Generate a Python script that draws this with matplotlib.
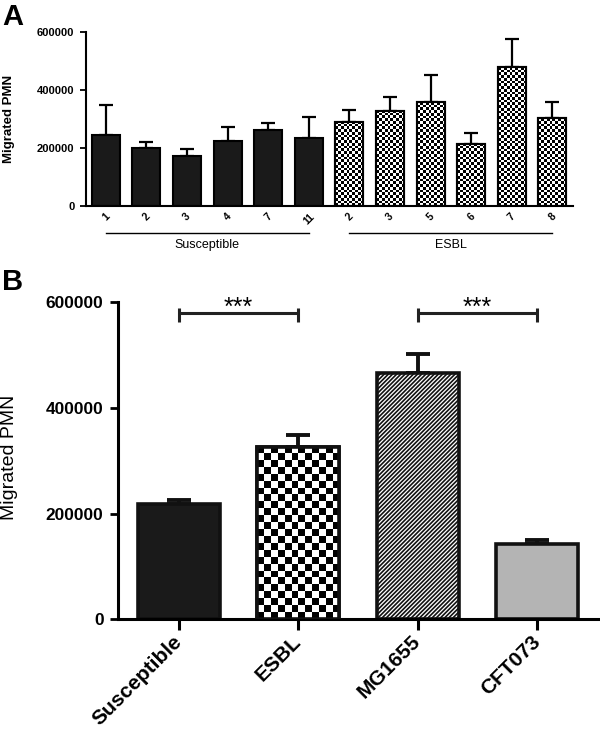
import numpy as np
import matplotlib
matplotlib.use("Agg")
import matplotlib.pyplot as plt
from matplotlib.transforms import blended_transform_factory

plt.rcParams['font.family'] = ['Liberation Sans', 'DejaVu Sans']
plt.rcParams['hatch.linewidth'] = 1.2

# ---------------- data ----------------
a_labels = ['1', '2', '3', '4', '7', '11', '2', '3', '5', '6', '7', '8']
a_groups = ['Susceptible'] * 6 + ['ESBL'] * 6
a_means = [246000, 200000, 171000, 224000, 262000, 236000,
           291000, 329000, 357000, 215000, 478000, 302000]
a_err = [103000, 20000, 24000, 47000, 24000, 70000,
         39000, 47000, 96000, 37000, 98000, 55000]

b_labels = ['Susceptible', 'ESBL', 'MG1655', 'CFT073']
b_means = [219000, 327000, 467000, 142000]
b_err = [7000, 21000, 35000, 8500]
b_sig_pairs = [(0, 1), (2, 3)]
b_sig_text = ['***', '***']
yticks = [0, 200000, 400000, 600000]

fig = plt.figure(figsize=(6, 7.3), dpi=100)


def checker_fill(ax, bars, cell_h, ncols, z=2.5):
    for bar in bars:
        x0, w, h = bar.get_x(), bar.get_width(), bar.get_height()
        nrows = max(1, int(round(h / cell_h)))
        ii, jj = np.indices((nrows, ncols))
        img = ((ii + jj) % 2).astype(float)
        im = ax.imshow(img, cmap='gray', vmin=0, vmax=1, extent=[x0, x0 + w, 0, h],
                       origin='lower', interpolation='nearest', aspect='auto', zorder=z)
        im.set_clip_path(bar)


# ---------------- Panel A ----------------
axA = fig.add_axes([86 / 600, 1 - 206 / 730, 487 / 600, 174 / 730])
xa = np.arange(len(a_means))
fills = ['#1a1a1a' if g == 'Susceptible' else 'white' for g in a_groups]
axA.errorbar(xa, a_means, yerr=[np.zeros(len(a_err)), a_err], fmt='none',
             ecolor='black', elinewidth=1.6, capsize=5, capthick=1.6, zorder=1)
barsA = axA.bar(xa, a_means, width=0.69, color=fills, edgecolor='black',
                linewidth=1.5, zorder=2)
esbl_idx = [i for i, g in enumerate(a_groups) if g == 'ESBL']
checker_fill(axA, [barsA[i] for i in esbl_idx], cell_h=9300, ncols=10)
axA.bar(xa[esbl_idx], np.array(a_means)[esbl_idx], width=0.69, fill=False,
        edgecolor='black', linewidth=1.5, zorder=3)
axA.set_xlim(-0.49, 11.51)
axA.set_ylim(0, 600000)
axA.set_yticks(yticks)
axA.set_yticklabels([str(v) for v in yticks], fontsize=8, fontweight='bold')
axA.set_xticks(xa)
axA.set_xticklabels(a_labels, rotation=45, fontsize=7.5, fontweight='bold',
                    ha='center')
axA.tick_params(axis='x', length=0, pad=4)
axA.tick_params(axis='y', length=4.3, width=1.3, pad=4)
for s in ['top', 'right']:
    axA.spines[s].set_visible(False)
for s in ['left', 'bottom']:
    axA.spines[s].set_linewidth(1.5)
axA.set_ylabel('Migrated PMN', fontsize=9.5, fontweight='bold')
axA.yaxis.label.set_va('center')
axA.yaxis.set_label_coords(-0.159, 0.5)

trA = blended_transform_factory(axA.transData, axA.transAxes)
for g in ['Susceptible', 'ESBL']:
    idx = [i for i, gg in enumerate(a_groups) if gg == g]
    axA.plot([xa[idx[0]], xa[idx[-1]]], [-0.155, -0.155], color='black', lw=1.0,
             transform=trA, clip_on=False)
    axA.text((xa[idx[0]] + xa[idx[-1]]) / 2, -0.224, g, transform=trA,
             ha='center', va='center', fontsize=9)

fig.text(0.004, 1 - 3 / 730, 'A', fontsize=21, fontweight='bold', va='top', ha='left')

# ---------------- Panel B ----------------
axB = fig.add_axes([118.3 / 600, 1 - 619.3 / 730, 479.4 / 600, 317 / 730])
xb = np.arange(len(b_means))
b_fill = ['#1a1a1a', 'white', 'white', '#b4b4b4']
b_hatch = ['', '', '////////', '']
axB.errorbar(xb, b_means, yerr=[np.zeros(len(b_err)), b_err], fmt='none',
             ecolor='#111111', elinewidth=2.8, capsize=8.4, capthick=2.8, zorder=1)
barsB = axB.bar(xb, b_means, width=0.69, color=b_fill, edgecolor='#111111',
                linewidth=2.6, hatch=b_hatch, zorder=2)
checker_fill(axB, [barsB[1]], cell_h=12900, ncols=12)
axB.bar(xb[1], b_means[1], width=0.69, fill=False, edgecolor='#111111',
        linewidth=2.6, zorder=3)
axB.set_xlim(-0.508, 3.508)
axB.set_ylim(0, 600000)
axB.set_yticks(yticks)
axB.set_yticklabels([str(v) for v in yticks], fontsize=12.4, fontweight='bold')
axB.set_xticks(xb)
axB.set_xticklabels(b_labels, rotation=45, fontsize=15, fontweight='bold',
                    ha='right', va='center', rotation_mode='anchor')
axB.tick_params(axis='x', length=8, width=2.2, pad=6)
axB.tick_params(axis='y', length=5.8, width=2.0, pad=4.8)
for s in ['top', 'right']:
    axB.spines[s].set_visible(False)
for s in ['left', 'bottom']:
    axB.spines[s].set_linewidth(2.2)
axB.set_ylabel('Migrated PMN', fontsize=14)
axB.yaxis.label.set_va('center')
axB.yaxis.set_label_coords(-0.226, 0.51)

for (i, j), t in zip(b_sig_pairs, b_sig_text):
    axB.plot([xb[i], xb[j]], [580600, 580600], color='#222222', lw=2.2,
             clip_on=False, solid_capstyle='butt')
    for k in (i, j):
        axB.plot([xb[k], xb[k]], [562000, 590000], color='#222222', lw=2.2,
                 clip_on=False, solid_capstyle='butt')
    axB.text((xb[i] + xb[j]) / 2, 577000, t, ha='center', va='baseline',
             fontsize=18, clip_on=False)

fig.text(0.004, 1 - 268 / 730, 'B', fontsize=21, fontweight='bold', va='top', ha='left')

fig.savefig('out.png', dpi=100)
